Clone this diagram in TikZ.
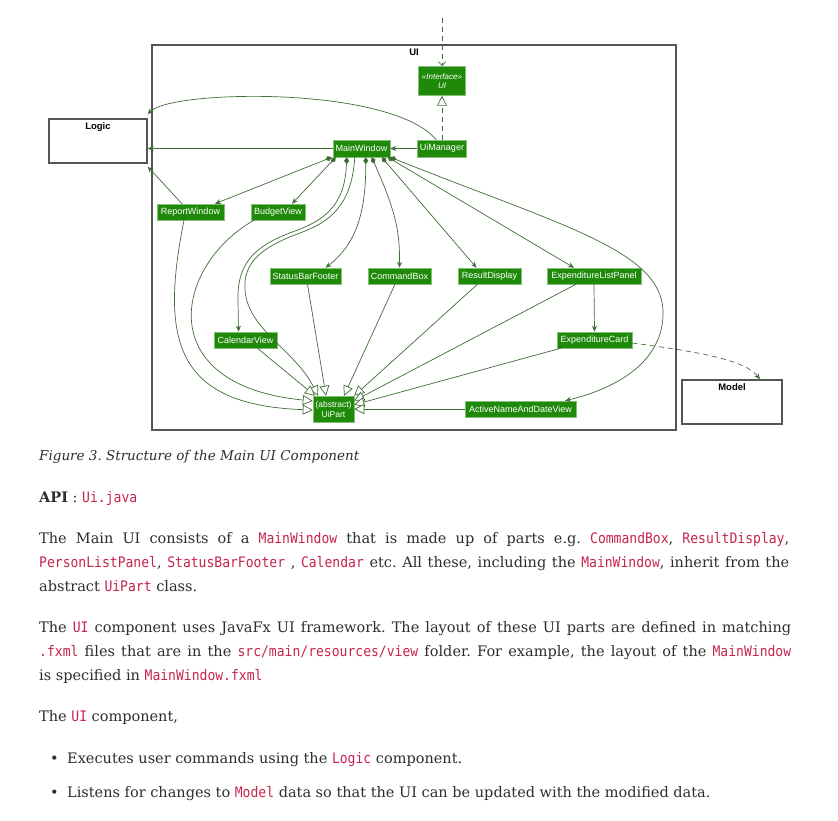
\documentclass[tikz,border=0pt]{standalone}
\usepackage{fontspec}
\setmainfont{DejaVu Serif}
\setsansfont{Liberation Sans}
\newfontfamily\codefont[FakeStretch=0.9]{DejaVu Sans Mono}
\usetikzlibrary{arrows.meta}
\definecolor{txt}{HTML}{2E2E2E}
\definecolor{codered}{HTML}{C7254E}
\definecolor{umlfill}{HTML}{1F8A0A}
\definecolor{umlline}{HTML}{3E6E35}
\definecolor{pkgline}{HTML}{555555}
\newcommand\cd[1]{{\codefont\color{codered}#1}}
\newcommand\bodyfont{\fontsize{14.5}{24}\selectfont}
\frenchspacing
\begin{document}
\begin{tikzpicture}[x=1pt,y=-1pt,
 cls/.style={draw=umlfill!55!white, line width=0.5pt, fill=umlfill, text=white, font=\sffamily\fontsize{9}{10}\selectfont, inner sep=0pt, minimum height=16pt},
 pkg/.style={draw=pkgline, line width=1.4pt, fill=white, inner sep=0pt},
 pkglabel/.style={anchor=north, inner sep=0pt, yshift=-4pt, font=\sffamily\bfseries\fontsize{9.5}{10}\selectfont},
 conn/.style={draw=umlline, line width=0.7pt},
 dep/.style={conn, -{Stealth[length=6pt,width=5pt,inset=2pt]}},
 comp/.style={conn, {Diamond[length=7pt,width=5pt]}-{Stealth[length=6pt,width=5pt,inset=2pt]}},
 inh/.style={conn, -{Triangle[open,length=10pt,width=10pt,fill=white]}},
 dsh/.style={dash pattern=on 5pt off 4pt},
 body/.style={anchor=base west, inner sep=0pt, text=txt, font=\bodyfont},
]
\fill[white] (0,0) rectangle (838,821);
\useasboundingbox (0,0) rectangle (838,821);

% packages
\node[pkg, fill=none, minimum width=524pt, minimum height=385pt, label={[pkglabel]north:UI}] (uiframe) at (414,237.5) {};
\node[pkg, minimum width=98pt, minimum height=44pt, label={[pkglabel]north:Logic}] (logic) at (98,141) {};
\node[pkg, minimum width=100pt, minimum height=44pt, label={[pkglabel]north:Model}] (model) at (732,402) {};

% classes
\node[cls, minimum width=47pt, minimum height=29pt, align=center, font=\sffamily\itshape\fontsize{8}{9.5}\selectfont] (iface) at (442,81) {«Interface»\\UI};
\node[cls, minimum width=49pt, minimum height=17pt] (uimgr) at (442,148.5) {UiManager};
\node[cls, minimum width=57pt, minimum height=17pt] (mw) at (361.5,148.5) {MainWindow};
\node[cls, minimum width=67pt] (report) at (190.5,212) {ReportWindow};
\node[cls, minimum width=54pt] (budget) at (278,212) {BudgetView};
\node[cls, minimum width=71pt] (status) at (305.5,276) {StatusBarFooter};
\node[cls, minimum width=63pt] (cmd) at (399.5,276) {CommandBox};
\node[cls, minimum width=63pt] (result) at (489.5,276) {ResultDisplay};
\node[cls, minimum width=94pt] (elp) at (594,276) {ExpenditureListPanel};
\node[cls, minimum width=63pt] (cal) at (245.5,340) {CalendarView};
\node[cls, minimum width=75pt] (ecard) at (594.5,340) {ExpenditureCard};
\node[cls, minimum width=41pt, minimum height=26pt, align=center, font=\sffamily\fontsize{8.5}{10}\selectfont] (uip) at (333.5,409) {(abstract)\\UiPart};
\node[cls, minimum width=111pt] (act) at (520.5,409) {ActiveNameAndDateView};

% connectors
\coordinate (topsrc) at (442,18);
\draw[conn, dsh, -{Straight Barb[length=4pt,width=7pt]}] (topsrc) -- (iface.north);
\draw[inh, dsh] (uimgr.north) -- (iface.south);
\draw[dep] (uimgr.west) -- (mw.east);
\draw[dep] (mw.west) -- (mw.west -| logic.east);
\draw[dep] ([xshift=19pt]uimgr.north west) .. controls (390,85) and (170,90) .. ([yshift=4pt]logic.north east);
\draw[dep] ([xshift=-8.5pt]report.north) -- ([yshift=-3pt]logic.south east);

\draw[comp] ([xshift=-1pt]mw.south west) -- ([xshift=24.5pt]report.north);
\draw[comp] ([xshift=3pt]mw.south west) -- ([xshift=14pt]budget.north);
\draw[comp] ([xshift=14pt]mw.south west) .. controls (345,205) and (325,220) .. (295,231) .. controls (256,245) and (237,262) .. (238,300) -- ([xshift=-7pt]cal.north);
\draw[comp] ([xshift=33pt]mw.south west) .. controls (366,215) and (355,245) .. ([xshift=20pt]status.north);
\draw[comp] ([xshift=39pt]mw.south west) .. controls (395,210) and (400,230) .. (cmd.north);
\draw[comp] ([xshift=49pt]mw.south west) -- ([xshift=-13pt]result.north);
\draw[comp] ([xshift=55pt]mw.south west) -- ([xshift=-20pt]elp.north);
\draw[comp] (mw.south east) .. controls (560,225) and (660,250) .. (663,310) .. controls (665,365) and (610,390) .. ([xshift=44.5pt]act.north);

\draw[inh] ([xshift=22pt]mw.south west) .. controls (352,205) and (330,222) .. (300,233) .. controls (262,247) and (243,262) .. (245,290) .. controls (248,330) and (295,350) .. ([xshift=-15.5pt]uip.north);
\draw[inh] ([xshift=-6.5pt]report.south) .. controls (160,340) and (175,405) .. ([yshift=-1pt]uip.west);
\draw[inh] ([xshift=-24pt]budget.south) .. controls (175,265) and (150,385) .. ([yshift=8pt]uip.west);
\draw[inh] ([xshift=12pt]cal.south) -- ([xshift=-18.5pt]uip.north);
\draw[inh] ([xshift=2pt]status.south) -- ([xshift=-7.5pt]uip.north);
\draw[inh] ([xshift=-4.5pt]cmd.south) -- ([xshift=10.5pt]uip.north);
\draw[inh] ([xshift=-12pt]result.south) -- (uip.north east);
\draw[inh] ([xshift=-18pt]elp.south) -- ([yshift=-5pt]uip.north east);
\draw[inh] ([xshift=4pt]ecard.south west) -- ([yshift=-9pt]uip.north east);
\draw[inh] (act.west) -- (uip.east);

\draw[dep] (elp.south) -- (ecard.north);
\draw[conn, dsh, -{Stealth[length=6pt,width=5pt,inset=2pt]}] ([yshift=-3pt]ecard.east) .. controls (700,352) and (745,360) .. ([xshift=28pt]model.north);

% text
\node[body, font=\fontsize{13.5}{16}\selectfont\itshape] (cap) at (39,460) {Figure 3. Structure of the Main UI Component};
\node[body] (api) at (39,502) {\textbf{API} : \cd{Ui.java}};
\node[body] (p1a) at (39,543) {\makebox[750pt][s]{The Main UI consists of a \cd{MainWindow} that is made up of parts e.g. \cd{CommandBox}, \cd{ResultDisplay},}};
\node[body] (p1b) at (39,567) {\makebox[750pt][s]{\cd{PersonListPanel}, \cd{StatusBarFooter} , \cd{Calendar} etc. All these, including the \cd{MainWindow}, inherit from the}};
\node[body] (p1c) at (39,591) {abstract \cd{UiPart} class.};
\node[body] (p2a) at (39,632) {\makebox[752pt][s]{The \cd{UI} component uses JavaFx UI framework. The layout of these UI parts are defined in matching}};
\node[body] (p2b) at (39,656) {\makebox[752pt][s]{\cd{.fxml} files that are in the \cd{src/main/resources/view} folder. For example, the layout of the \cd{MainWindow}}};
\node[body] (p2c) at (39,680) {is specified in \cd{MainWindow.fxml}};
\node[body] (p3) at (39,721) {The \cd{UI} component,};
\node[body] (b1dot) at (50,763) {•};
\node[body] (b1) at (67,763) {Executes user commands using the \cd{Logic} component.};
\node[body] (b2dot) at (50,797) {•};
\node[body] (b2) at (67,797) {Listens for changes to \cd{Model} data so that the UI can be updated with the modified data.};
\end{tikzpicture}
\end{document}
